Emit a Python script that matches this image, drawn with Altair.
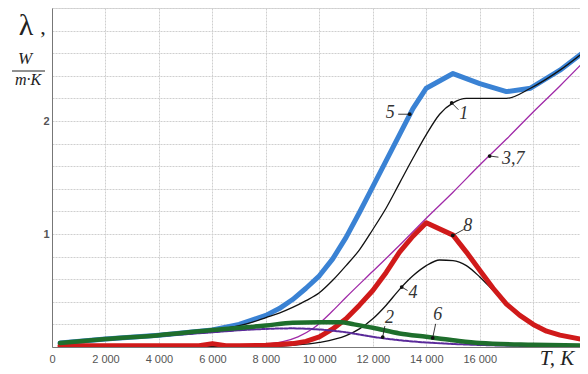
import altair as alt
import pandas as pd

# ---- data (T in K, lambda in W/(m K)) ----
T5 = [300, 2000, 4000, 6000, 7000, 7500, 8000, 8500, 9000, 9500, 10000, 10500, 11000, 11500, 12000, 12500, 13000, 13500, 14000, 15000, 16000, 17000, 17900, 19000, 20000]
L5 = [0.035, 0.07, 0.105, 0.15, 0.2, 0.24, 0.28, 0.34, 0.42, 0.52, 0.63, 0.78, 0.97, 1.19, 1.42, 1.65, 1.88, 2.11, 2.29, 2.42, 2.33, 2.26, 2.29, 2.45, 2.63]

T1 = [300, 2000, 4000, 6000, 7000, 7500, 8000, 8500, 9000, 9500, 10000, 10500, 11000, 11500, 12000, 12500, 13000, 13500, 14000, 14500, 15000, 15500, 16000, 17000, 17900, 19000, 20000]
L1 = [0.035, 0.07, 0.105, 0.15, 0.19, 0.22, 0.26, 0.3, 0.35, 0.41, 0.48, 0.59, 0.72, 0.86, 1.04, 1.23, 1.45, 1.67, 1.88, 2.06, 2.16, 2.2, 2.2, 2.2, 2.29, 2.45, 2.63]

T37 = [300, 4000, 6000, 7000, 7800, 8600, 9200, 9800, 10500, 11000, 12000, 13000, 14000, 15000, 16000, 17000, 18000, 19000, 20000]
L37 = [0.003, 0.004, 0.006, 0.01, 0.02, 0.045, 0.09, 0.17, 0.32, 0.44, 0.67, 0.9, 1.14, 1.37, 1.61, 1.84, 2.08, 2.31, 2.55]

T4 = [300, 6000, 8000, 9000, 10000, 11000, 11500, 12000, 12500, 13000, 13500, 14000, 14500, 15000, 15500, 16000, 16500, 17000, 17500, 18000, 19000, 20000]
L4 = [0.0, 0.002, 0.005, 0.015, 0.04, 0.1, 0.16, 0.25, 0.37, 0.51, 0.63, 0.72, 0.77, 0.765, 0.72, 0.62, 0.5, 0.38, 0.28, 0.2, 0.105, 0.06]

T8 = [300, 2000, 4000, 5500, 6000, 6500, 7000, 8000, 9000, 9500, 10000, 10500, 11000, 11500, 12000, 12500, 13000, 13500, 14000, 15000, 15500, 16000, 16500, 17000, 17500, 18000, 18500, 19000, 20000]
L8 = [0.01, 0.01, 0.01, 0.012, 0.03, 0.012, 0.01, 0.015, 0.03, 0.05, 0.09, 0.16, 0.25, 0.37, 0.5, 0.66, 0.84, 0.98, 1.1, 0.99, 0.84, 0.68, 0.52, 0.38, 0.28, 0.2, 0.14, 0.105, 0.06]

T2 = [300, 2000, 4000, 6000, 7000, 8000, 9000, 10000, 11000, 12000, 13000, 14000, 15000, 16000, 18000, 20000]
L2 = [0.03, 0.063, 0.097, 0.13, 0.148, 0.16, 0.165, 0.155, 0.13, 0.09, 0.06, 0.04, 0.027, 0.018, 0.008, 0.004]

T6 = [300, 2000, 4000, 6000, 8000, 9000, 10000, 10800, 11300, 12000, 13000, 14000, 15000, 16000, 18000, 20000]
L6 = [0.035, 0.07, 0.105, 0.15, 0.19, 0.215, 0.22, 0.22, 0.2, 0.17, 0.12, 0.09, 0.06, 0.035, 0.02, 0.012]

# curve labels: text position and the dot on the curve the leader points to
LAB_TEXT = ["5", "1", "3,7", "8", "4", "2", "6"]
LAB_T = [12650, 15400, 17250, 15550, 13500, 12620, 14430]
LAB_L = [2.07, 2.06, 1.665, 1.075, 0.476, 0.255, 0.28]
LEAD_T1 = [12950, 15200, 16700, 15400, 13300, 12450, 14350]
LEAD_L1 = [2.06, 2.1, 1.68, 1.04, 0.50, 0.185, 0.205]
DOT_T = [13380, 14950, 16370, 14990, 13080, 12370, 14240]
DOT_L = [2.06, 2.16, 1.69, 0.987, 0.53, 0.088, 0.08]

X_VALUES = [0, 2000, 4000, 6000, 8000, 10000, 12000, 14000, 16000, 18000]
Y_VALUES = [0, 0.2, 0.4, 0.6, 0.8, 1, 1.2, 1.4, 1.6, 1.8, 2, 2.2, 2.4, 2.6, 2.8, 3]

xscale = alt.Scale(domain=[0, 19750], nice=False, zero=False)
yscale = alt.Scale(domain=[0, 3], nice=False)

xaxis = alt.Axis(values=X_VALUES, title=None, grid=True, gridColor="#cfcfcf", gridDash=[2, 1],
                 ticks=False, domainColor="#777", labelColor="#555", labelFont="Liberation Sans",
                 labelFontSize=11, labelPadding=6, labelFlush=False,
                 labelExpr="datum.value <= 16000 ? replace(format(datum.value, ','), ',', ' ') : ''")
yaxis = alt.Axis(values=Y_VALUES, title=None, grid=True, gridColor="#cfcfcf", gridDash=[2, 1],
                 ticks=False, domainColor="#777", labelColor="#555", labelFont="Liberation Sans",
                 labelFontSize=11, labelPadding=3, labelFontWeight="bold",
                 labelExpr="datum.value == 1 ? '1' : (datum.value == 2 ? '2' : '')")

X = alt.X("T:Q", scale=xscale, axis=xaxis)
Y = alt.Y("L:Q", scale=yscale, axis=yaxis)


def curve(T, L, color, width, interp="monotone", dash=None):
    df = pd.DataFrame({"T": T, "L": L})
    kw = dict(color=color, strokeWidth=width, interpolate=interp, strokeCap="round",
              strokeJoin="round", clip=True)
    if dash is not None:
        kw["strokeDash"] = dash
    return alt.Chart(df).mark_line(**kw).encode(x=X, y=Y)


c5 = curve(T5, L5, "#3a82d4", 5, interp="linear")
c1 = curve(T1, L1, "#111111", 1.3)
c37 = curve(T37, L37, "#a02aa8", 1.3)
c4 = curve(T4, L4, "#111111", 1.3)
c8 = curve(T8, L8, "#d01a1a", 5, interp="linear")
c2 = curve(T2, L2, "#5a2a9a", 2, dash=[3, 1.5])
c6 = curve(T6, L6, "#1e6e2c", 4.5)

lab = pd.DataFrame({"txt": LAB_TEXT, "T": LAB_T, "L": LAB_L,
                    "T1": LEAD_T1, "L1": LEAD_L1, "Td": DOT_T, "Ld": DOT_L})
leaders = alt.Chart(lab).mark_rule(color="#222", strokeWidth=0.9).encode(
    x=alt.X("Td:Q", scale=xscale, axis=xaxis), y=alt.Y("Ld:Q", scale=yscale, axis=yaxis),
    x2="T1:Q", y2="L1:Q")
dots = alt.Chart(lab).mark_circle(color="#111", size=14, opacity=1).encode(
    x=alt.X("Td:Q", scale=xscale, axis=xaxis), y=alt.Y("Ld:Q", scale=yscale, axis=yaxis))
labels = alt.Chart(lab).mark_text(font="Liberation Serif", fontStyle="italic", fontSize=18,
                                  color="#333", baseline="middle", align="center").encode(
    x=X, y=Y, text="txt:N")

one = pd.DataFrame({"a": [0]})
lam = alt.Chart(one).mark_text(text="λ", font="Liberation Serif", fontSize=30, color="#222",
                               baseline="alphabetic", align="center").encode(x=alt.value(-26), y=alt.value(27))
comma = alt.Chart(one).mark_text(text=",", font="Liberation Serif", fontSize=22, color="#222",
                                 baseline="alphabetic", align="center").encode(x=alt.value(-9), y=alt.value(26))
wtxt = alt.Chart(one).mark_text(text="W", font="Liberation Serif", fontStyle="italic", fontSize=17,
                                color="#222", baseline="middle", align="center").encode(x=alt.value(-27), y=alt.value(51))
frac = alt.Chart(one).mark_rule(color="#222", strokeWidth=1).encode(
    x=alt.value(-40), x2=alt.value(-7), y=alt.value(63))
mk = alt.Chart(one).mark_text(text="m·K", font="Liberation Serif", fontStyle="italic", fontSize=16,
                              color="#222", baseline="middle", align="center").encode(x=alt.value(-24), y=alt.value(72))
tk = alt.Chart(one).mark_text(text="T, K", font="Liberation Serif", fontStyle="italic", fontSize=21,
                              color="#222", baseline="alphabetic", align="center").encode(x=alt.value(505), y=alt.value(357))

chart = alt.layer(c5, c1, c37, c4, c8, c2, c6, leaders, dots, labels,
                  lam, comma, wtxt, frac, mk, tk).properties(
    width=528, height=339,
    autosize=alt.AutoSizeParams(type="none"),
    padding={"left": 44, "top": 0, "right": 0, "bottom": 26},
).configure_view(stroke="#aaaaaa", strokeWidth=1).configure(background="white")

chart.save("out.html", embed_options={"renderer": "svg", "actions": False})
